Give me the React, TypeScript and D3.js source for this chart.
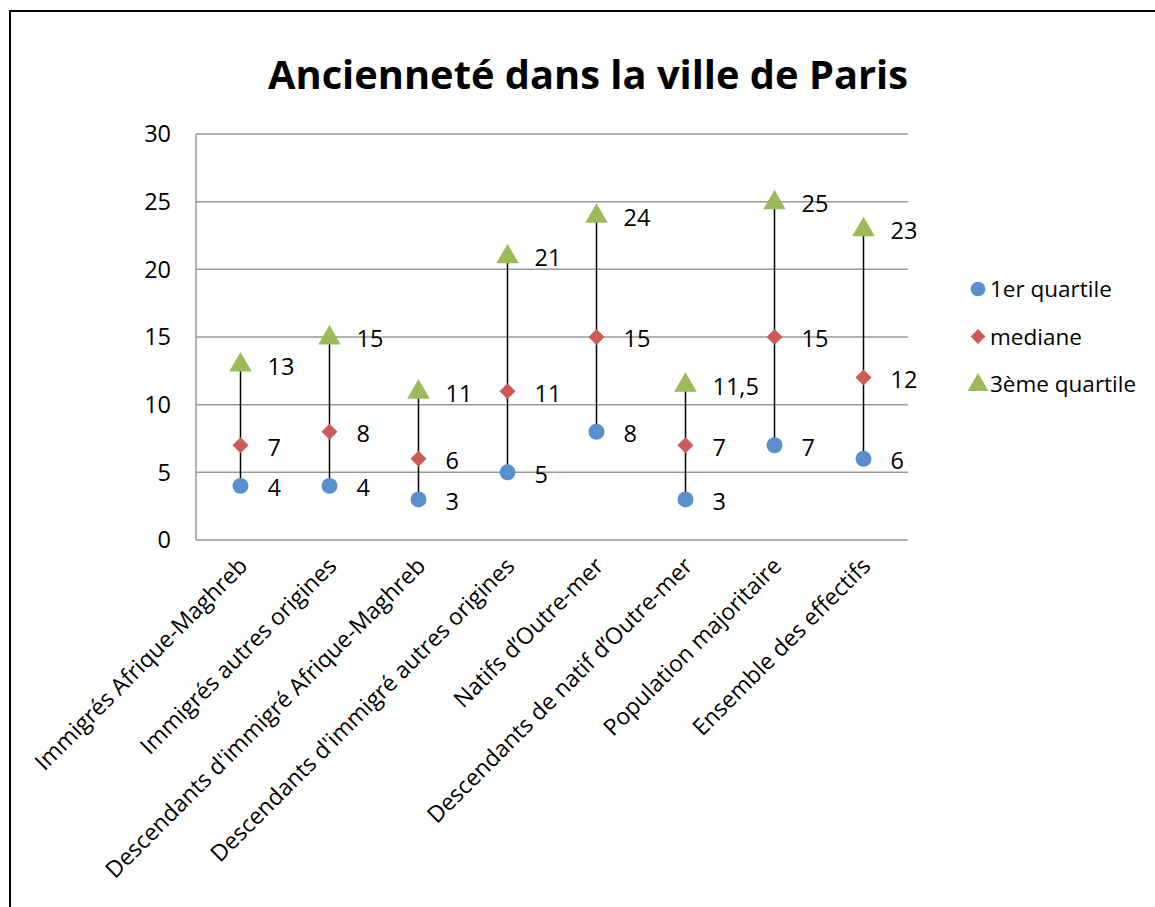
import React, { useEffect, useRef } from 'react';
import * as d3 from 'd3';

const categories = [
  'Immigrés Afrique-Maghreb',
  'Immigrés autres origines',
  "Descendants d'immigré Afrique-Maghreb",
  "Descendants d'immigré autres origines",
  'Natifs d’Outre-mer',
  'Descendants de natif d’Outre-mer',
  'Population majoritaire',
  'Ensemble des effectifs',
];
const q1 = [4, 4, 3, 5, 8, 3, 7, 6];
const median = [7, 8, 6, 11, 15, 7, 15, 12];
const q3 = [13, 15, 11, 21, 24, 11.5, 25, 23];
const yTicks = [0, 5, 10, 15, 20, 25, 30];
const seriesNames = ['1er quartile', 'mediane', '3ème quartile'];
const colors = ['#5A8FCE', '#CC5B55', '#9BBB59'];

const fmt = (v: number) => String(v).replace('.', ',');

export default function App() {
  const svgRef = useRef<SVGSVGElement>(null);

  useEffect(() => {
    const svg = d3.select(svgRef.current);
    svg.selectAll('*').remove();
    const width = 1155, height = 907;
    const font = '"Open Sans", sans-serif';

    svg.append('rect').attr('x', 0).attr('y', 0).attr('width', width).attr('height', height).attr('fill', '#fff');
    // chart frame (extends past the picture on right & bottom)
    svg.append('rect').attr('x', 10).attr('y', 11).attr('width', 1160).attr('height', 920)
      .attr('fill', 'none').attr('stroke', '#000').attr('stroke-width', 2);

    svg.append('text').attr('x', 588).attr('y', 89).attr('text-anchor', 'middle')
      .attr('font-family', font).attr('font-weight', 'bold').attr('font-size', 40)
      .attr('textLength', 640).attr('lengthAdjust', 'spacingAndGlyphs')
      .text('Ancienneté dans la ville de Paris');

    const x = d3.scaleBand().domain(categories).range([196, 908]);
    const y = d3.scaleLinear().domain([0, 30]).range([540, 134]);

    // gridlines
    svg.append('g').selectAll('line').data(yTicks.slice(1)).join('line')
      .attr('x1', 196).attr('x2', 908).attr('y1', d => y(d)).attr('y2', d => y(d))
      .attr('stroke', '#999').attr('stroke-width', 1.5);

    svg.append('line').attr('x1', 196).attr('x2', 196).attr('y1', y(30)).attr('y2', y(0))
      .attr('stroke', '#999').attr('stroke-width', 1.5);
    svg.append('line').attr('x1', 196).attr('x2', 908).attr('y1', y(0)).attr('y2', y(0))
      .attr('stroke', '#999').attr('stroke-width', 1.5);

    svg.append('g').selectAll('text').data(yTicks).join('text')
      .attr('x', 171).attr('y', d => y(d)).attr('dy', '0.36em').attr('text-anchor', 'end')
      .attr('font-family', font).attr('font-size', 23.5).text(d => d);

    const cx = (c: string) => (x(c) ?? 0) + x.bandwidth() / 2;

    // category labels
    svg.append('g').selectAll('text').data(categories).join('text')
      .attr('transform', d => `translate(${cx(d) - 3},${556}) rotate(-45)`)
      .attr('text-anchor', 'end').attr('dy', '0.7em')
      .attr('font-family', font).attr('font-size', 23).text(d => d);

    // ranges
    svg.append('g').selectAll('line').data(categories).join('line')
      .attr('x1', d => cx(d)).attr('x2', d => cx(d))
      .attr('y1', (d, i) => y(q1[i])).attr('y2', (d, i) => y(q3[i]))
      .attr('stroke', '#000').attr('stroke-width', 1.5);

    const shapes = [d3.symbolCircle, d3.symbolSquare, d3.symbolTriangle];
    const sizes = [200, 128, 220];
    const rot = [0, 45, 0];
    const values = [q1, median, q3];

    values.forEach((vals, s) => {
      const sym = d3.symbol().type(shapes[s]).size(sizes[s]);
      const g = svg.append('g');
      g.selectAll('path').data(categories).join('path')
        .attr('transform', (d, i) => `translate(${cx(d)},${y(vals[i]) + (s === 2 ? 1 : 0)}) rotate(${rot[s]})`)
        .attr('d', sym).attr('fill', colors[s]);
      g.selectAll('text').data(categories).join('text')
        .attr('x', d => cx(d) + 27).attr('y', (d, i) => y(vals[i]) + 2).attr('dy', '0.36em')
        .attr('font-family', font).attr('font-size', 23.5).text((d, i) => fmt(vals[i]));
    });

    // legend
    const lg = svg.append('g');
    seriesNames.forEach((name, s) => {
      const ly = 289 + s * 47.5;
      lg.append('path').attr('transform', `translate(978,${ly + (s === 2 ? 1 : 0)}) rotate(${rot[s]})`)
        .attr('d', d3.symbol().type(shapes[s]).size(sizes[s] * 0.85)()).attr('fill', colors[s]);
      lg.append('text').attr('x', 990).attr('y', ly).attr('dy', '0.36em')
        .attr('font-family', font).attr('font-size', 22.5).text(name);
    });
  }, []);

  return <svg ref={svgRef} width={1155} height={907} style={{ display: 'block', position: 'absolute', left: 0, top: 0 }} />;
}
